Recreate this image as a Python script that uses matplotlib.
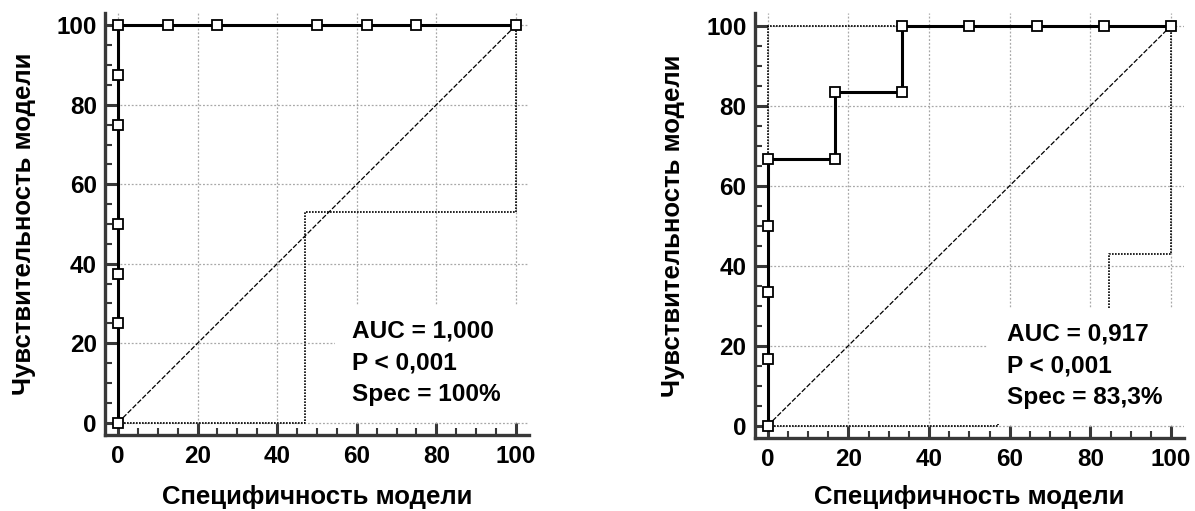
import matplotlib
matplotlib.use("Agg")
import matplotlib.pyplot as plt
from matplotlib.patches import Rectangle
from matplotlib.ticker import MultipleLocator

plt.rcParams['font.family'] = ['Liberation Sans', 'DejaVu Sans']
plt.rcParams['font.weight'] = 'bold'

# ROC points, left model
left_spec = [0, 0, 0, 0, 0, 0, 0, 12.5, 25, 50, 62.5, 75, 100]
left_sens = [0, 25, 37.5, 50, 75, 87.5, 100, 100, 100, 100, 100, 100, 100]
left_lo_x = [0, 47, 47, 100, 100]
left_lo_y = [0, 0, 53, 53, 100]
left_hi_x = [0, 0, 100]
left_hi_y = [0, 100, 100]
left_text = ["AUC = 1,000", "P < 0,001", "Spec = 100%"]

# ROC points, right model
right_spec = [0, 0, 0, 0, 0, 16.7, 16.7, 33.3, 33.3, 50, 66.7, 83.3, 100]
right_sens = [0, 16.7, 33.3, 50, 66.7, 66.7, 83.3, 83.3, 100, 100, 100, 100, 100]
right_lo_x = [0, 57, 57, 84.7, 84.7, 100, 100]
right_lo_y = [0, 0, 14, 14, 43, 43, 100]
right_hi_x = [0, 0, 100]
right_hi_y = [0, 100, 100]
right_text = ["AUC = 0,917", "P < 0,001", "Spec = 83,3%"]

ticks = [0, 20, 40, 60, 80, 100]
xlabel = "Специфичность модели"
ylabel = "Чувствительность модели"

spine_col = '#383838'

fig = plt.figure(figsize=(11.95, 5.11), dpi=100)
ax1 = fig.add_axes([0.0881, 0.1479, 0.3546, 0.8274])
ax2 = fig.add_axes([0.6316, 0.1419, 0.3596, 0.8329])


def draw(ax, sx, sy, lox, loy, hix, hiy, lines, tx, xpad):
    ax.set_xlim(-3.2, 103.3)
    ax.set_ylim(-3.2, 103.2)
    ax.set_axisbelow(True)
    ax.grid(True, which='major', color='#a8a8a8', lw=0.9, ls=(0, (1.5, 1.5)))

    ax.plot([0, 100], [0, 100], color='black', lw=0.9, ls=(0, (4, 1.5)), zorder=2)
    ax.plot(lox, loy, color='black', lw=1.2, ls=(0, (1, 0.8)), zorder=2)
    ax.plot(hix, hiy, color='black', lw=1.2, ls=(0, (1, 0.8)), zorder=2)

    # white background behind the statistics
    ax.add_patch(Rectangle((54.5, 0.5), 60, 29, facecolor='white',
                           edgecolor='none', zorder=3))

    ax.plot(sx, sy, color='black', lw=2.2, marker='s', ms=7.4,
            mfc='white', mec='black', mew=1.3, zorder=4)

    for i, t in enumerate(lines):
        ax.text(tx, 23 - 8 * i, t, fontsize=17.6, fontweight='bold',
                va='center', ha='left', zorder=5)

    ax.set_xticks(ticks)
    ax.set_yticks(ticks)
    ax.xaxis.set_minor_locator(MultipleLocator(5))
    ax.yaxis.set_minor_locator(MultipleLocator(5))
    ax.tick_params(which='major', direction='in', length=9, width=2.2,
                   color=spine_col, labelsize=17.5)
    ax.tick_params(which='minor', direction='in', length=5, width=1.5,
                   color=spine_col)
    ax.tick_params(axis='x', which='major', pad=7)
    ax.tick_params(axis='y', which='major', pad=6)
    for s in ['top', 'right']:
        ax.spines[s].set_visible(False)
    for s in ['left', 'bottom']:
        ax.spines[s].set_linewidth(2.4)
        ax.spines[s].set_color(spine_col)
    ax.set_xlabel(xlabel, fontsize=18.5, fontweight='bold', labelpad=xpad)
    ax.set_ylabel(ylabel, fontsize=18.5, fontweight='bold', labelpad=15)


draw(ax1, left_spec, left_sens, left_lo_x, left_lo_y, left_hi_x, left_hi_y,
     left_text, 58.7, 12)
draw(ax2, right_spec, right_sens, right_lo_x, right_lo_y, right_hi_x, right_hi_y,
     right_text, 59.3, 10)

fig.savefig('out.png', dpi=100)
